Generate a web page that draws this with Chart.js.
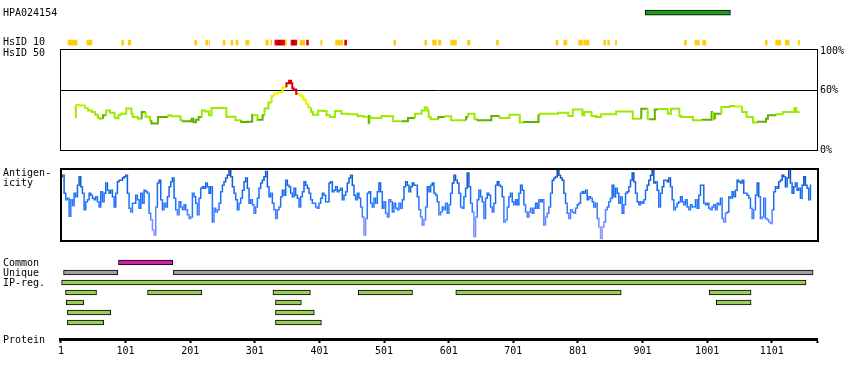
<!DOCTYPE html>
<html>
<head>
<meta charset="utf-8">
<title>HPA024154</title>
<script src="https://cdn.jsdelivr.net/npm/chart.js@4.4.1/dist/chart.umd.min.js"></script>
<style>
  body { margin: 0; background: #fff; }
  #lienzo { position: relative; width: 850px; height: 380px; overflow: hidden; font: 10px "DejaVu Sans Mono", monospace; color: #000; }
  #lienzo canvas { position: absolute; left: 0; }
  .etiqueta { position: absolute; left: 3px; line-height: 10px; white-space: pre; }
</style>
</head>
<body>
<div id="lienzo">
  <canvas id="graficaArriba" width="850" height="60" style="top:0"></canvas>
  <canvas id="graficaIdentidad" width="850" height="120" style="top:40px"></canvas>
  <canvas id="graficaAntigeno" width="850" height="85" style="top:160px"></canvas>
  <canvas id="graficaRegiones" width="850" height="130" style="top:250px"></canvas>
  <div class="etiqueta" style="top:8px">HPA024154</div>
  <div class="etiqueta" style="top:37px">HsID 10</div>
  <div class="etiqueta" style="top:48px">HsID 50</div>
  <div class="etiqueta" style="top:168px">Antigen-</div>
  <div class="etiqueta" style="top:178px">icity</div>
  <div class="etiqueta" style="top:258px">Common</div>
  <div class="etiqueta" style="top:268px">Unique</div>
  <div class="etiqueta" style="top:278px">IP-reg.</div>
  <div class="etiqueta" style="top:335px">Protein</div>
</div>
<script>
// --- Datos (posiciones en residuos) ---
const largoProteina = 1171;
const marcasProteina = [1, 101, 201, 301, 401, 501, 601, 701, 801, 901, 1001, 1101];
const marcasIdentidad = [0, 60, 100];

const regionAntigeno = [[905, 1037]];

const hsidAmarillo = [[12, 26], [41, 49], [95, 98], [105, 109], [208, 211], [225, 228], [230, 231], [252, 255],
  [264, 267], [272, 275], [287, 292], [318, 322], [326, 327], [348, 350], [371, 378], [403, 405], [426, 437],
  [516, 519], [564, 567], [576, 582], [585, 589], [604, 613], [630, 634], [675, 678], [767, 770], [779, 784],
  [802, 808], [810, 818], [841, 844], [847, 850], [859, 861], [966, 969], [982, 985], [986, 989], [994, 999],
  [1091, 1094], [1107, 1115], [1122, 1124], [1125, 1128], [1142, 1144]];
const hsidRojo = [[332, 336], [341, 348], [357, 359], [363, 366], [381, 384], [440, 443]];
const hsidOscuro = [[336, 341], [359, 363]];

const identidadPos = [24, 25, 30, 38, 43, 49, 54, 58, 61, 66, 71, 77, 84, 87, 90, 93, 102, 110, 112, 120,
  126, 132, 139, 141, 151, 167, 172, 186, 190, 203, 206, 210, 214, 219, 224, 230, 234, 244, 257, 259,
  271, 280, 290, 297, 299, 305, 307, 313, 316, 322, 327, 331, 337, 344, 350, 354, 357, 359, 361, 365,
  368, 372, 376, 380, 384, 388, 391, 399, 407, 412, 417, 425, 435, 440, 445, 460, 469, 477, 478, 480,
  497, 505, 515, 528, 538, 549, 559, 564, 568, 570, 573, 585, 595, 605, 628, 631, 641, 646, 667, 680,
  695, 711, 718, 740, 742, 752, 770, 786, 793, 808, 811, 822, 829, 837, 860, 886, 899, 909, 913, 920,
  925, 940, 945, 958, 961, 979, 994, 1008, 1010, 1013, 1023, 1036, 1045, 1055, 1062, 1072, 1080, 1092, 1095, 1108,
  1118, 1136, 1139, 1141, 1144];
const identidadVal = [32, 44, 45.4, 45, 42.3, 40, 38.3, 35.7, 32.6, 31.6, 35, 39.8, 37.7, 32.6, 32, 35, 36.6, 41.8, 36.6, 33.3,
  31.6, 38.3, 33.7, 30, 26.7, 33.3, 35, 34.2, 30, 29, 31.6, 28, 30.6, 33.3, 39.8, 38.8, 35, 42.3, 42.3, 33.3,
  33.7, 30, 28.3, 28.6, 35.6, 35, 30, 30.6, 35, 41.8, 48, 54.6, 57.1, 58.3, 63.3, 67.3, 70, 67.3, 62.3, 61.2,
  56.7, 56.1, 54.3, 51, 46.7, 42.8, 38.3, 35.6, 39.7, 39.4, 35, 33.3, 39.4, 36.7, 36.6, 36.2, 34.4, 33.7, 26.7, 34.4,
  32.3, 34.4, 34, 29, 29, 32.3, 36.6, 39.8, 42.8, 39.8, 33.3, 31, 33.3, 34, 30, 33.3, 36.6, 31, 30, 34.4,
  32.3, 35.6, 27.7, 28.4, 35, 36.6, 36.6, 37.7, 34.4, 41, 35, 38.3, 34.4, 33.3, 36, 39, 31.6, 41.6, 31.6, 31.1,
  41, 41.3, 36.6, 41.6, 34.4, 33.3, 30, 30.6, 38.3, 31, 36.6, 43.3, 44.4, 43.9, 38.3, 33.3, 27.7, 28.6, 31.6, 35,
  36, 38.3, 42.3, 38.3, 38.3];

// antigenicidad: un valor cada antPaso residuos desde antInicio
const antInicio = 2;
const antPaso = 2.578;
const antigenicidad = [
  88, 90, 65, 56, 58, 33, 56, 48, 65, 60, 76, 88, 74, 65, 42, 53, 56, 65, 62, 58,
  56, 60, 53, 46, 67, 53, 65, 79, 69, 65, 69, 60, 46, 65, 81, 83, 83, 86, 88, 90,
  65, 44, 39, 51, 51, 62, 56, 44, 65, 51, 69, 67, 65, 37, 28, 14, 7, 46, 79, 83,
  56, 42, 51, 46, 60, 74, 81, 86, 58, 42, 35, 53, 46, 42, 49, 42, 35, 30, 32, 65,
  60, 51, 35, 58, 72, 74, 72, 79, 74, 65, 74, 25, 44, 39, 42, 51, 67, 76, 81, 86,
  90, 98, 88, 74, 65, 56, 42, 51, 58, 69, 81, 86, 72, 51, 56, 49, 37, 46, 58, 72,
  79, 83, 88, 95, 74, 60, 65, 51, 42, 30, 42, 46, 60, 69, 62, 83, 76, 74, 65, 60,
  72, 62, 58, 46, 60, 67, 81, 76, 72, 65, 56, 51, 51, 46, 44, 51, 58, 65, 62, 53,
  53, 79, 81, 67, 69, 74, 67, 69, 72, 56, 62, 67, 79, 86, 90, 76, 62, 56, 65, 58,
  46, 32, 7, 30, 65, 67, 51, 46, 58, 51, 67, 79, 67, 44, 53, 37, 32, 56, 53, 39,
  51, 44, 42, 51, 44, 56, 74, 81, 76, 67, 74, 79, 76, 76, 60, 42, 32, 21, 28,
  46, 74, 67, 76, 79, 65, 62, 53, 35, 39, 46, 42, 51, 37, 49, 65, 79, 90, 83, 79,
  65, 46, 44, 60, 72, 93, 74, 51, 39, 5, 32, 56, 69, 60, 53, 30, 58, 65, 62, 46,
  39, 51, 76, 81, 76, 74, 60, 25, 28, 46, 60, 65, 53, 49, 56, 49, 65, 76, 69, 49,
  39, 32, 39, 44, 37, 44, 51, 44, 56, 53, 56, 21, 32, 37, 46, 65, 83, 86, 88, 97,
  90, 86, 83, 65, 51, 37, 30, 42, 39, 37, 44, 49, 51, 65, 67, 65, 69, 56, 60, 58,
  53, 46, 51, 30, 18, 2, 18, 25, 42, 46, 53, 58, 76, 60, 72, 65, 51, 60, 37, 49,
  65, 67, 74, 83, 93, 81, 65, 53, 49, 53, 51, 56, 69, 76, 83, 90, 97, 79, 81, 69,
  46, 65, 74, 83, 83, 81, 86, 74, 56, 42, 46, 51, 53, 60, 53, 49, 56, 46, 42, 49,
  46, 46, 56, 44, 62, 76, 76, 51, 49, 51, 44, 42, 46, 49, 42, 51, 49, 58, 30, 25,
  37, 39, 60, 58, 67, 60, 69, 83, 81, 79, 83, 65, 65, 62, 58, 44, 30, 42, 62, 79,
  60, 30, 32, 58, 30, 28, 25, 23, 42, 67, 74, 72, 81, 83, 90, 88, 74, 86, 99, 79,
  65, 74, 79, 69, 72, 58, 76, 88, 76, 72, 56, 76];

const regionComun = [[90, 174]];
const regionUnica = [[5, 89], [175, 1165]];
const regionIP = [[2, 1154]];
const filasEpitopos = [
  [[8, 56], [135, 219], [329, 387], [461, 545], [612, 868], [1004, 1069]],
  [[9, 36], [333, 373], [1015, 1069]],
  [[11, 78], [333, 393]],
  [[11, 67], [333, 404]]
];

// --- Estilos ---
const fuente = { family: '"DejaVu Sans Mono", monospace', size: 10 };
Chart.defaults.color = '#000';

function colorIdentidad(v) {
  if (v >= 60) return '#e00000';
  if (v >= 50) return '#f2f200';
  if (v >= 44) return '#c6f000';
  if (v >= 32) return '#9aeb00';
  return '#62b000';
}

const paradasAzul = [[0, [176, 160, 255]], [25, [110, 135, 255]], [50, [30, 115, 255]], [75, [15, 100, 230]], [100, [8, 70, 165]]];
function colorAntigeno(v) {
  for (let i = 1; i < paradasAzul.length; i++) {
    const [v1, c1] = paradasAzul[i];
    const [v0, c0] = paradasAzul[i - 1];
    if (v <= v1 || i === paradasAzul.length - 1) {
      const t = Math.max(0, Math.min(1, (v - v0) / (v1 - v0)));
      const c = c0.map((a, k) => Math.round(a + (c1[k] - a) * t));
      return `rgb(${c[0]},${c[1]},${c[2]})`;
    }
  }
}

// marco negro alrededor del área del gráfico
const marco = {
  id: 'marco',
  afterDatasetsDraw(chart, args, opts) {
    const { ctx, chartArea: a } = chart;
    const w = opts.width || 1;
    ctx.save();
    ctx.strokeStyle = '#000';
    ctx.lineWidth = w;
    ctx.strokeRect(Math.round(a.left) + w / 2, Math.round(a.top) + w / 2,
      Math.round(a.right - a.left), Math.round(a.bottom - a.top));
    ctx.restore();
  }
};

function opcionesBase(padding) {
  return {
    responsive: false,
    animation: false,
    events: [],
    layout: { padding },
    plugins: { legend: { display: false }, tooltip: { enabled: false } }
  };
}

function ejeX(mostrar) {
  return { type: 'linear', min: -0.5, max: largoProteina, display: mostrar };
}

function barras(tramos, fila, color, borde, grosor) {
  return {
    data: tramos.map((t) => ({ x: t, y: fila })),
    backgroundColor: color,
    borderColor: '#000',
    borderWidth: borde,
    borderSkipped: false,
    barThickness: grosor,
    grouped: false
  };
}

// --- Fila superior: región del antígeno y HsID 10 ---
new Chart(document.getElementById('graficaArriba'), {
  type: 'bar',
  data: {
    datasets: [
      barras(regionAntigeno, 0, '#1c9c1c', 1, 5),
      barras(hsidAmarillo, 1, '#ffcc11', 0, 5),
      barras(hsidRojo, 1, '#e80000', 0, 5),
      barras(hsidOscuro, 1, '#a00000', 0, 5)
    ]
  },
  options: {
    ...opcionesBase({ left: 60, right: 33, top: 0, bottom: 0 }),
    indexAxis: 'y',
    scales: {
      x: ejeX(false),
      y: { type: 'linear', reverse: true, min: -0.42, max: 1.58, offset: false, display: false }
    }
  }
});

// --- Identidad (HsID 50) ---
new Chart(document.getElementById('graficaIdentidad'), {
  type: 'line',
  data: {
    datasets: [{
      data: identidadPos.map((p, i) => ({ x: p, y: identidadVal[i] })),
      borderColor: '#9aeb00',
      borderWidth: 2,
      pointRadius: 0,
      stepped: 'after',
      segment: { borderColor: (c) => colorIdentidad(c.p0.parsed.y) }
    }]
  },
  options: {
    ...opcionesBase({ left: 60, right: 0, top: 8, bottom: 10 }),
    scales: {
      x: ejeX(false),
      y: {
        type: 'linear',
        position: 'right',
        min: 0,
        max: 102,
        afterBuildTicks: (s) => { s.ticks = marcasIdentidad.map((v) => ({ value: v })); },
        afterFit: (s) => { s.width = 33; },
        border: { display: false },
        grid: {
          drawTicks: false,
          lineWidth: 1,
          color: (c) => (c.tick && c.tick.value === 60 ? '#000' : 'rgba(0,0,0,0)')
        },
        ticks: { padding: 3, color: '#000', font: fuente, callback: (v) => v + '%' }
      }
    },
    plugins: {
      legend: { display: false },
      tooltip: { enabled: false },
      marco: { width: 1 }
    }
  },
  plugins: [marco]
});

// --- Antigenicidad ---
new Chart(document.getElementById('graficaAntigeno'), {
  type: 'line',
  data: {
    datasets: [{
      data: antigenicidad.map((v, i) => ({ x: antInicio + i * antPaso, y: v })),
      borderColor: '#1e73ff',
      borderWidth: 1.5,
      pointRadius: 0,
      stepped: 'middle',
      segment: { borderColor: (c) => colorAntigeno((c.p0.parsed.y + c.p1.parsed.y) / 2) }
    }]
  },
  options: {
    ...opcionesBase({ left: 60, right: 33, top: 8, bottom: 5 }),
    scales: {
      x: ejeX(false),
      y: { type: 'linear', min: 0, max: 100, display: false }
    },
    plugins: {
      legend: { display: false },
      tooltip: { enabled: false },
      marco: { width: 2 }
    }
  },
  plugins: [marco]
});

// --- Regiones y eje de la proteína ---
new Chart(document.getElementById('graficaRegiones'), {
  type: 'bar',
  data: {
    datasets: [
      barras(regionComun, 0, '#cc22aa', 1, 5),
      barras(regionUnica, 1, '#a0a0a0', 1, 5),
      barras(regionIP, 2, '#9ccc5a', 1, 5),
      ...filasEpitopos.map((f, i) => barras(f, 3 + i, '#9ccc5a', 1, 5))
    ]
  },
  options: {
    ...opcionesBase({ left: 60, right: 33, top: 5, bottom: 0 }),
    indexAxis: 'y',
    scales: {
      x: {
        type: 'linear',
        min: -0.5,
        max: largoProteina,
        position: 'bottom',
        afterBuildTicks: (s) => { s.ticks = [...marcasProteina, largoProteina].map((v) => ({ value: v })); },
        afterFit: (s) => { s.height = 41; },
        border: { display: true, width: 3, color: '#000' },
        grid: { drawOnChartArea: false, drawTicks: true, tickLength: 4, tickWidth: 2, tickColor: '#000' },
        ticks: {
          autoSkip: false,
          maxRotation: 0,
          padding: 2,
          color: '#000',
          font: fuente,
          callback: (v) => (v === largoProteina ? '' : String(v))
        }
      },
      y: { type: 'linear', reverse: true, min: -0.75, max: 7.65, offset: false, display: false }
    }
  }
});
</script>
</body>
</html>
